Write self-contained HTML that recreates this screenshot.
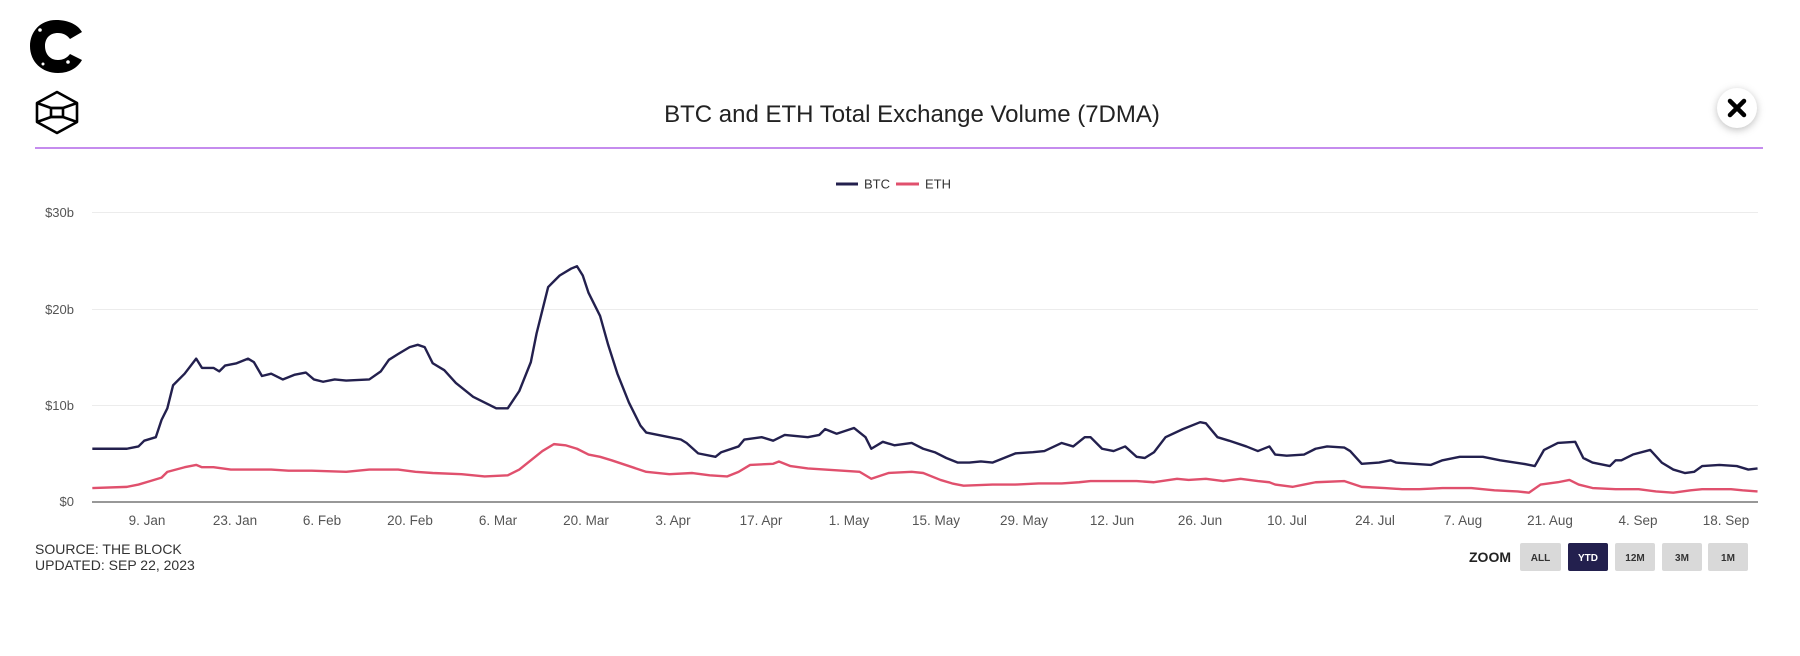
<!DOCTYPE html>
<html><head><meta charset="utf-8"><style>
html,body{margin:0;padding:0;background:#fff;width:1800px;height:656px;overflow:hidden}
svg{display:block;font-family:"Liberation Sans",sans-serif}
</style></head><body>
<svg width="1800" height="656" viewBox="0 0 1800 656" xmlns="http://www.w3.org/2000/svg">
<g>
<path d="M56 20 C40 20 30 32 30 46 C30 62 42 73 58 73 C70 73 78 67 82 60 L70 54 C67 58 63 60 58 60 C50 60 45 54 45 46 C45 38 50 33 58 33 C63 33 67 35 70 39 L82 32 C78 25 69 20 56 20 Z" fill="#000"/>
<circle cx="40" cy="30" r="1.8" fill="#fff"/><circle cx="68" cy="62" r="1.8" fill="#fff"/><circle cx="43" cy="64" r="1.5" fill="#fff"/>
</g>
<g fill="none" stroke="#000" stroke-width="2.6" stroke-linejoin="round">
<polygon points="57,92 77,103 77,122 57,133 37,122 37,103"/>
<polyline points="37,103 51,108 63,108 77,103"/>
<polyline points="37,122 51,117 63,117 77,122"/>
<rect x="51" y="108" width="12" height="9"/>
</g>
<text x="912" y="122" text-anchor="middle" font-size="24" fill="#222">BTC and ETH Total Exchange Volume (7DMA)</text>
<circle cx="1737" cy="108" r="20" fill="#fff" style="filter:drop-shadow(0 2px 4px rgba(0,0,0,0.25))"/>
<path d="M1730 101 L1744 115 M1744 101 L1730 115" stroke="#000" stroke-width="4.5" stroke-linecap="round"/>
<line x1="35" y1="148" x2="1763" y2="148" stroke="#b266e8" stroke-width="1.6"/>
<line x1="836" y1="184" x2="858" y2="184" stroke="#23204e" stroke-width="3"/>
<text x="864" y="188.5" font-size="13" fill="#333">BTC</text>
<line x1="896" y1="184" x2="919" y2="184" stroke="#e0506d" stroke-width="3"/>
<text x="925" y="188.5" font-size="13" fill="#333">ETH</text>
<g stroke="#ececec" stroke-width="1">
<line x1="92" y1="212.5" x2="1758" y2="212.5"/>
<line x1="92" y1="309.5" x2="1758" y2="309.5"/>
<line x1="92" y1="405.5" x2="1758" y2="405.5"/>
</g>
<line x1="92" y1="502" x2="1758" y2="502" stroke="#777" stroke-width="1.5"/>
<g font-size="13" fill="#555" text-anchor="end">
<text x="74" y="217">$30b</text><text x="74" y="314">$20b</text><text x="74" y="410">$10b</text><text x="74" y="506">$0</text>
</g>
<g font-size="13.5" fill="#555" text-anchor="middle">
<text x="147" y="525">9. Jan</text><text x="235" y="525">23. Jan</text><text x="322" y="525">6. Feb</text><text x="410" y="525">20. Feb</text><text x="498" y="525">6. Mar</text><text x="586" y="525">20. Mar</text><text x="673" y="525">3. Apr</text><text x="761" y="525">17. Apr</text><text x="849" y="525">1. May</text><text x="936" y="525">15. May</text><text x="1024" y="525">29. May</text><text x="1112" y="525">12. Jun</text><text x="1200" y="525">26. Jun</text><text x="1287" y="525">10. Jul</text><text x="1375" y="525">24. Jul</text><text x="1463" y="525">7. Aug</text><text x="1550" y="525">21. Aug</text><text x="1638" y="525">4. Sep</text><text x="1726" y="525">18. Sep</text>
</g>
<g transform="matrix(1.154 0 0 1.155 0 -1.7)" fill="none" stroke-linejoin="round">
<polyline vector-effect="non-scaling-stroke" stroke="#e0506d" stroke-width="2.4" points="80,424 110,423 120,421 130,418 140,415 145,410 160,406 170,404 175,406 185,406 200,408 215,408 235,408 250,409 270,409 300,410 320,408 345,408 360,410 375,411 400,412 420,414 440,413 450,408 460,400 470,392 480,386 490,387 500,390 510,395 520,397 530,400 545,405 560,410 580,412 600,411 615,413 630,414 640,410 650,404 670,403 675,401 685,405 700,407 715,408 730,409 745,410 755,416 770,411 790,410 800,411 815,417 825,420 835,422 860,421 880,421 900,420 920,420 935,419 945,418 960,418 985,418 1000,419 1020,416 1030,417 1045,416 1060,418 1075,416 1090,418 1100,419 1105,421 1120,423 1130,421 1140,419 1165,418 1180,423 1200,424 1215,425 1230,425 1250,424 1275,424 1295,426 1315,427 1325,428 1335,421 1350,419 1360,417 1368,421 1380,424 1400,425 1420,425 1435,427 1450,428 1465,426 1475,425 1500,425 1510,426 1523,427"/>
<polyline vector-effect="non-scaling-stroke" stroke="#23204e" stroke-width="2.4" points="80,390 110,390 120,388 125,383 135,380 140,365 145,355 150,335 160,325 170,312 175,320 185,320 190,323 195,318 205,316 215,312 220,315 227,327 235,325 245,330 255,326 265,324 272,330 280,332 290,330 300,331 320,330 330,323 337,313 345,308 355,302 362,300 368,302 375,316 385,322 395,333 410,345 420,350 430,355 440,355 450,340 460,315 465,290 475,250 480,245 485,240 495,234 500,232 505,240 510,255 520,275 527,300 535,325 545,350 555,370 560,376 580,380 590,382 595,385 605,394 620,397 625,393 640,388 645,382 660,380 670,383 680,378 700,380 710,378 715,373 725,377 740,372 750,380 755,390 765,384 775,387 790,385 800,390 810,393 820,398 830,402 840,402 850,401 860,402 870,398 880,394 895,393 905,392 920,385 930,388 940,380 945,380 955,390 965,392 975,388 985,397 992,398 1000,393 1010,380 1025,373 1040,367 1045,368 1055,380 1065,383 1080,388 1090,392 1100,388 1105,395 1115,396 1130,395 1140,390 1150,388 1165,389 1170,392 1180,403 1195,402 1205,400 1210,402 1225,403 1240,404 1250,400 1265,397 1285,397 1300,400 1320,403 1330,405 1338,391 1350,385 1365,384 1372,398 1380,402 1395,405 1400,400 1405,400 1415,395 1430,391 1440,402 1450,408 1460,411 1468,410 1475,405 1490,404 1505,405 1515,408 1523,407"/>
</g>
<text x="35" y="554" font-size="14" fill="#333">SOURCE: THE BLOCK</text>
<text x="35" y="570" font-size="14" fill="#333">UPDATED: SEP 22, 2023</text>
<text x="1511" y="562" text-anchor="end" font-size="14" font-weight="bold" fill="#222">ZOOM</text>
<g font-size="10" font-weight="bold" text-anchor="middle">
<rect x="1520" y="543" width="41" height="28" rx="2" fill="#d9d9d9"/><text x="1540.5" y="561" fill="#333">ALL</text>
<rect x="1568" y="543" width="40" height="28" rx="2" fill="#23204e"/><text x="1588" y="561" fill="#fff">YTD</text>
<rect x="1615" y="543" width="40" height="28" rx="2" fill="#d9d9d9"/><text x="1635" y="561" fill="#333">12M</text>
<rect x="1662" y="543" width="40" height="28" rx="2" fill="#d9d9d9"/><text x="1682" y="561" fill="#333">3M</text>
<rect x="1708" y="543" width="40" height="28" rx="2" fill="#d9d9d9"/><text x="1728" y="561" fill="#333">1M</text>
</g>
</svg>
</body></html>
